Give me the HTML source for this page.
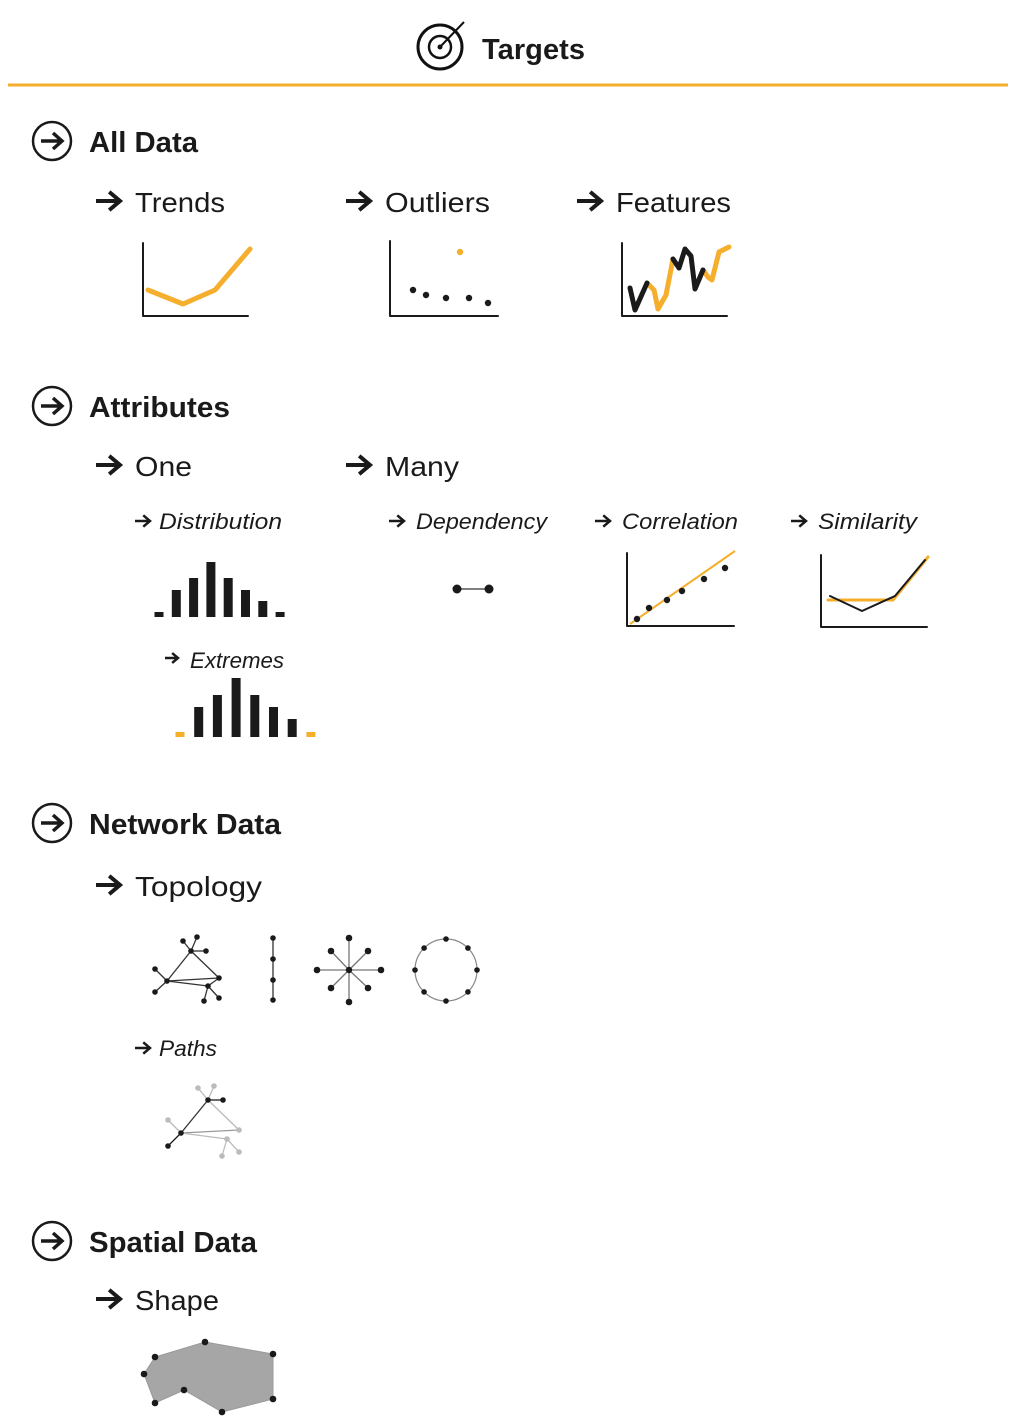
<!DOCTYPE html>
<html><head><meta charset="utf-8"><style>
html,body{margin:0;padding:0;background:#fff;}
svg{display:block;font-family:"Liberation Sans",sans-serif;}
.h{font-size:29px;font-weight:bold;fill:#1a1a1a;}
.s{font-size:28px;fill:#1a1a1a;}
.i{font-size:22px;font-style:italic;fill:#1a1a1a;}
</style></head><body>
<svg id="c" width="1019" height="1419" viewBox="0 0 1019 1419">
<g>
<circle cx="440" cy="47" r="22" fill="none" stroke="#111" stroke-width="3"/>
<circle cx="440" cy="47" r="11" fill="none" stroke="#111" stroke-width="2.5"/>
<circle cx="440" cy="47" r="2.5" fill="#111"/>
<line x1="440" y1="47" x2="464" y2="22" stroke="#111" stroke-width="2"/>
<text x="482" y="59" class="h" textLength="103">Targets</text>
</g>
<line x1="8" y1="85" x2="1008" y2="85" stroke="#f6ae2d" stroke-width="3"/>
<g id="g"></g>
</svg>
<script>
const ORANGE="#f6ae2d", K="#1a1a1a";
const trendsValues=[290,304,290,249];
const trendsX=[148,183,215,250];
const outlierDots=[[413,290],[426,295],[446,298],[469,298],[488,303]];
const outlierPoint=[460,252];
const featuresBlackA=[[630,288],[635,310],[647,283]];
const featuresOrangeA=[[647,283],[654,290],[658,309],[666,295],[673,259]];
const featuresBlackB=[[673,259],[679,268],[685,249],[691,256],[695,289],[703,270]];
const featuresOrangeB=[[703,270],[708,277],[712,280],[719,252],[729,247]];
const distHeights=[5,27,39,55,39,27,16,5];
const extHeights=[5,30,42,59,42,30,18,5];
const corrDots=[[637,619],[649,608],[667,600],[682,591],[704,579],[725,568]];
const simBlack=[[830,596],[862,611],[895,596],[925,560]];
const simOrange=[[828,600],[893,600],[928,557]];
const shapePts=[[205,1342],[273,1354],[273,1399],[222,1412],[184,1390],[155,1403],[144,1374],[155,1357]];

const NS="http://www.w3.org/2000/svg", G=document.getElementById('g');
function el(t,a,name,p){const e=document.createElementNS(NS,t);for(const k in a)e.setAttribute(k,a[k]);


(p||G).appendChild(e);return e;}
function txt(x,y,cls,s,len,name){const e=el('text',{x:x,y:y,class:cls,textLength:len,lengthAdjust:'spacingAndGlyphs'},name);e.textContent=s;return e;}
function arrow(x,y,w,sw,name){const g=el('g',{},name);
el('path',{d:`M${x} ${y}H${x+w-2}M${x+w*0.55} ${y-w*0.38}L${x+w} ${y}L${x+w*0.55} ${y+w*0.38}`,fill:'none',stroke:K,'stroke-width':sw,'stroke-linejoin':'miter'},'arrow-shape',g);return g;}
function circArrow(cy,name){const g=el('g',{},name);
el('circle',{cx:52,cy:cy,r:19,fill:'none',stroke:K,'stroke-width':2.5},'circle',g);
el('path',{d:`M41 ${cy}H61M53 ${cy-8}L62 ${cy}L53 ${cy+8}`,fill:'none',stroke:K,'stroke-width':3.5},'arrow',g);}
function poly(pts,color,w,name){return el('polyline',{points:pts.map(p=>p.join(',')).join(' '),fill:'none',stroke:color,'stroke-width':w,'stroke-linejoin':'round','stroke-linecap':'round'},name);}
function axes(x,top,bottom,right,name){poly([[x,top],[x,bottom],[right,bottom]],K,2,name);}
function dot(x,y,r,c,name){el('circle',{cx:x,cy:y,r:r,fill:c},name);}

// All Data
circArrow(141,'all-data-icon');txt(89,152,'h','All Data',109,'all-data-heading');
arrow(96,201,24,4,'trends-arrow');txt(135,212,'s','Trends',90,'trends-label');
arrow(346,201,24,4,'outliers-arrow');txt(385,212,'s','Outliers',105,'outliers-label');
arrow(577,201,24,4,'features-arrow');txt(616,212,'s','Features',115,'features-label');
axes(143,243,316,248,'trends-axes');
poly(trendsX.map((x,i)=>[x,trendsValues[i]]),ORANGE,5,'trends-line');
axes(390,241,316,498,'outliers-axes');
outlierDots.forEach(p=>dot(p[0],p[1],3.2,K,'outlier-dot'));
dot(outlierPoint[0],outlierPoint[1],3.2,ORANGE,'outlier-point');
axes(622,243,316,727,'features-axes');
poly(featuresOrangeA,ORANGE,5,'features-orange-a');poly(featuresOrangeB,ORANGE,5,'features-orange-b');
poly(featuresBlackA,K,5,'features-black-a');poly(featuresBlackB,K,5,'features-black-b');

// Attributes
circArrow(406,'attributes-icon');txt(89,417,'h','Attributes',141,'attributes-heading');
arrow(96,465,24,4,'one-arrow');txt(135,476,'s','One',57,'one-label');
arrow(346,465,24,4,'many-arrow');txt(385,476,'s','Many',74,'many-label');
arrow(135,521,15,2.5,'distribution-arrow');txt(159,529,'i','Distribution',123,'distribution-label');
arrow(389,521,15,2.5,'dependency-arrow');txt(416,529,'i','Dependency',131,'dependency-label');
arrow(595,521,15,2.5,'correlation-arrow');txt(622,529,'i','Correlation',116,'correlation-label');
arrow(791,521,15,2.5,'similarity-arrow');txt(818,529,'i','Similarity',99,'similarity-label');
distHeights.forEach((h,i)=>el('rect',{x:159+i*17.3-4.5,y:617-h,width:9,height:h,fill:K},'distribution-bar'));
arrow(165,658,13,2.5,'extremes-arrow');txt(190,668,'i','Extremes',94,'extremes-label');
extHeights.forEach((h,i)=>el('rect',{x:180+i*18.7-4.5,y:737-h,width:9,height:h,fill:(i==0||i==extHeights.length-1)?ORANGE:K},'extremes-bar'));
el('line',{x1:457,y1:589,x2:489,y2:589,stroke:'#555','stroke-width':1.5},'dependency-link');
dot(457,589,4.5,K,'dependency-node');dot(489,589,4.5,K,'dependency-node');
axes(627,553,626,734,'correlation-axes');
el('line',{x1:630,y1:624,x2:735,y2:551,stroke:ORANGE,'stroke-width':2},'correlation-trend');
corrDots.forEach(p=>dot(p[0],p[1],3.2,K,'correlation-dot'));
axes(821,555,627,927,'similarity-axes');
poly(simOrange,ORANGE,3,'similarity-orange');poly(simBlack,K,2,'similarity-black');

// Network
circArrow(823,'network-icon');txt(89,834,'h','Network Data',192,'network-heading');
arrow(96,885,24,4,'topology-arrow');txt(135,896,'s','Topology',127,'topology-label');
function graph(nodes,edges,name,colors,ecolors){const g=el('g',{},name);
edges.forEach((e,i)=>el('line',{x1:nodes[e[0]][0],y1:nodes[e[0]][1],x2:nodes[e[1]][0],y2:nodes[e[1]][1],stroke:ecolors?ecolors[i]:'#333','stroke-width':1.3},'edge',g));
nodes.forEach((n,i)=>el('circle',{cx:n[0],cy:n[1],r:n[2]||2.8,fill:colors?colors[i]:K},'node',g));}
const topoNodes=[[191,951],[219,978],[167,981],[208,986],[183,941],[197,937],[206,951],[155,969],[155,992],[204,1001],[219,998]];
const topoEdges=[[0,1],[0,2],[2,1],[2,3],[3,1],[0,4],[0,5],[0,6],[2,7],[2,8],[3,9],[3,10]];
graph(topoNodes,topoEdges,'topology-graph');
graph([[273,938],[273,959],[273,980],[273,1000]],[[0,1],[1,2],[2,3]],'line-graph');
const starN=[[349,970,3.2]],starE=[];
[[349,938],[349,1002],[317,970],[381,970],[331,951],[368,951],[331,988],[368,988]].forEach((p,i)=>{starN.push([p[0],p[1],3.3]);starE.push([0,i+1]);});
graph(starN,starE,'star-graph',null,starE.map(()=>'#777'));
el('circle',{cx:446,cy:970,r:31,fill:'none',stroke:'#888','stroke-width':1.2},'ring-edge');
for(let k=0;k<8;k++){const a=k*Math.PI/4;dot(446+31*Math.cos(a),970+31*Math.sin(a),2.8,K,'ring-node');}
arrow(135,1048,15,2.5,'paths-arrow');txt(159,1056,'i','Paths',58,'paths-label');
const GR="#bbb";
const pathNodes=[[208,1100],[223,1100],[181,1133],[168,1146],[168,1120],[239,1130],[227,1139],[198,1088],[214,1086],[222,1156],[239,1152]];
const pathEdges=[[0,1],[0,2],[2,3],[2,4],[0,5],[2,5],[2,6],[0,7],[0,8],[6,9],[6,10]];
graph(pathNodes,pathEdges,'paths-graph',[K,K,K,K,GR,GR,GR,GR,GR,GR,GR],[K,'#333',K,GR,GR,'#999',GR,GR,GR,GR,GR]);

// Spatial
circArrow(1241,'spatial-icon');txt(89,1252,'h','Spatial Data',168,'spatial-heading');
arrow(96,1299,24,4,'shape-arrow');txt(135,1310,'s','Shape',84,'shape-label');
el('polygon',{points:shapePts.map(p=>p.join(',')).join(' '),fill:'#a6a6a6',stroke:'#999','stroke-width':1},'shape-polygon');
shapePts.forEach(p=>dot(p[0],p[1],3.3,K,'shape-vertex'));
</script>
</body></html>
